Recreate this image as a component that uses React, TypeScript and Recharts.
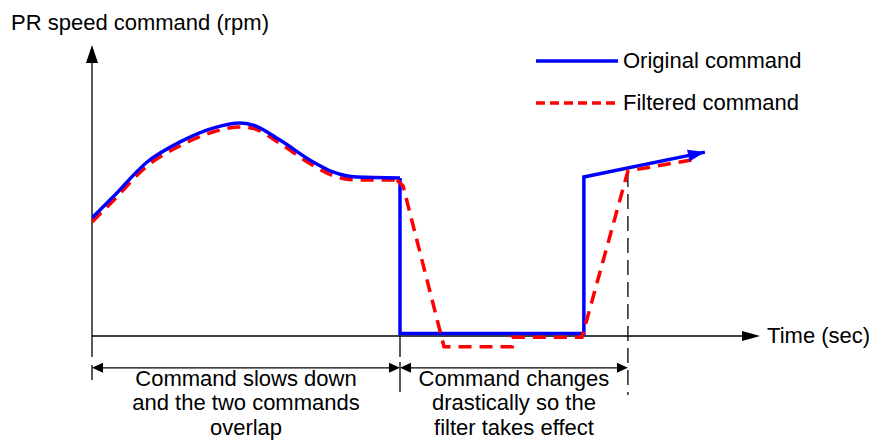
import { LineChart, Line, XAxis, YAxis, ReferenceLine } from "recharts";

const FONT = "'Liberation Sans', Arial, sans-serif";
const BLUE = "#0000ff";
const RED = "#ff0000";

// time (sec) and speed (rpm) of the original command
const originalCurveTime = [0, 0.68, 1.79, 2.86, 3.93, 4.81, 5.23, 6.1, 7.18, 7.82, 8.6, 10];
const originalCurveRpm = [393, 463, 580, 647, 693, 710, 703, 653, 580, 547, 530, 527];
const originalStepTime = [10, 10, 15.97, 15.97, 19.9];
const originalStepRpm = [527, 8, 8, 530, 613];

// the filtered command
const filteredCurveTime = [0, 0.68, 1.79, 2.86, 3.93, 4.81, 5.23, 6.1, 7.18, 7.82, 8.6, 9.9];
const filteredCurveRpm = [380, 450, 567, 634, 680, 697, 692, 642, 568, 535, 520, 520];
const filteredStepTime = [9.9, 10.1, 11.43, 13.64, 13.64, 15.91, 17.4, 19.64];
const filteredStepRpm = [520, 500, -36, -36, -4, -4, 550, 590];

const legendNames = ["Original command", "Filtered command"];
const yAxisTitle = "PR speed command (rpm)";
const xAxisTitle = "Time (sec)";
const yAxisEnd = 970;
const xAxisEnd = 21.69;

// phase boundaries (sec) and their captions
const phaseBounds = [0, 10, 17.4];
const phaseCaptions = [
  ["Command slows down", "and the two commands", "overlap"],
  ["Command changes", "drastically so the", "filter takes effect"],
];

const toPoints = (ts: number[], vs: number[]) => ts.map((t, i) => ({ t, v: vs[i] }));

const headPoints = (tx: number, ty: number, fx: number, fy: number, len: number, wid: number) => {
  const dx = tx - fx;
  const dy = ty - fy;
  const d = Math.hypot(dx, dy) || 1;
  const ux = dx / d;
  const uy = dy / d;
  const bx = tx - ux * len;
  const by = ty - uy * len;
  const px = (-uy * wid) / 2;
  const py = (ux * wid) / 2;
  return {
    bx,
    by,
    pts: `${tx},${ty} ${bx + px},${by + py} ${bx - px},${by - py}`,
  };
};

const Arrow = (p: any) => {
  const { x1, y1, x2, y2, start, end, len, wid, color, width, noLine } = p;
  const e = end ? headPoints(x2, y2, x1, y1, len, wid) : null;
  const s = start ? headPoints(x1, y1, x2, y2, len, wid) : null;
  return (
    <g>
      {!noLine && (
        <line
          x1={s ? s.bx : x1}
          y1={s ? s.by : y1}
          x2={e ? e.bx : x2}
          y2={e ? e.by : y2}
          stroke={color}
          strokeWidth={width}
        />
      )}
      {e && <polygon points={e.pts} fill={color} />}
      {s && <polygon points={s.pts} fill={color} />}
    </g>
  );
};

const yAxisShape = (p: any) => (
  <g>
    <Arrow {...p} end len={18} wid={12} color="#000" width={1.3} />
    <text x={p.x2 - 81} y={p.y2 - 15} fontSize={22} fontFamily={FONT} fill="#000">
      {yAxisTitle}
    </text>
  </g>
);

const xAxisShape = (p: any) => (
  <g>
    <Arrow {...p} end len={18} wid={10} color="#000" width={1.3} />
    <text x={p.x2 + 7} y={p.y2 + 7} fontSize={22} fontFamily={FONT} fill="#000">
      {xAxisTitle}
    </text>
  </g>
);

const blueHeadShape = (p: any) => (
  <Arrow {...p} end noLine len={17} wid={12} color={BLUE} />
);

const spanShape = (lines: string[]) => (p: any) => {
  const cx = (p.x1 + p.x2) / 2;
  return (
    <g>
      <Arrow {...p} start end len={11} wid={10} color="#000" width={1.3} />
      <text
        x={cx}
        y={p.y1 + 18}
        textAnchor="middle"
        fontSize={22}
        fontFamily={FONT}
        fill="#000"
      >
        {lines.map((l, i) => (
          <tspan key={i} x={cx} dy={i === 0 ? 0 : 24.5}>
            {l}
          </tspan>
        ))}
      </text>
    </g>
  );
};

const LegendBox = () => (
  <div
    style={{
      position: "absolute",
      top: 40,
      left: 536,
      fontFamily: FONT,
      fontSize: 22,
      color: "#000",
      whiteSpace: "nowrap",
    }}
  >
    {legendNames.map((name, i) => (
      <div key={name} style={{ display: "flex", alignItems: "center", height: 42 }}>
        <svg width={82} height={6} style={{ marginRight: 5 }}>
          <line
            x1={0}
            y1={3}
            x2={82}
            y2={3}
            stroke={i === 0 ? BLUE : RED}
            strokeWidth={3.5}
            strokeDasharray={i === 0 ? undefined : "9 5"}
          />
        </svg>
        <span style={{ lineHeight: "22px" }}>{name}</span>
      </div>
    ))}
  </div>
);

export default function App() {
  return (
    <div style={{ position: "absolute", top: 0, left: 0, width: 871, height: 441, background: "#fff" }}>
      <LineChart
        width={871}
        height={441}
        margin={{ top: 36, right: 9, left: 92, bottom: 0 }}
      >
        <XAxis type="number" dataKey="t" domain={[0, 25]} hide allowDataOverflow />
        <YAxis type="number" dataKey="v" domain={[-350, 1000]} hide allowDataOverflow />
        <ReferenceLine
          segment={[{ x: 0, y: 0 }, { x: 0, y: yAxisEnd }]}
          ifOverflow="visible"
          shape={yAxisShape}
        />
        <ReferenceLine
          segment={[{ x: 0, y: 0 }, { x: xAxisEnd, y: 0 }]}
          ifOverflow="visible"
          shape={xAxisShape}
        />
        {phaseBounds.slice(0, 2).map((t) => (
          <ReferenceLine
            key={`tick-${t}`}
            segment={[{ x: t, y: 0 }, { x: t, y: -70 }]}
            stroke="#000"
            strokeWidth={1.3}
            ifOverflow="visible"
          />
        ))}
        <ReferenceLine
          segment={[{ x: phaseBounds[0], y: -97 }, { x: phaseBounds[0], y: -147 }]}
          stroke="#000"
          strokeWidth={1.3}
          ifOverflow="visible"
        />
        <ReferenceLine
          segment={[{ x: phaseBounds[1], y: -87 }, { x: phaseBounds[1], y: -187 }]}
          stroke="#000"
          strokeWidth={1.3}
          ifOverflow="visible"
        />
        <ReferenceLine
          segment={[{ x: phaseBounds[2], y: 547 }, { x: phaseBounds[2], y: -197 }]}
          stroke="#000"
          strokeWidth={1.3}
          strokeDasharray="15 7"
          ifOverflow="visible"
        />
        {phaseCaptions.map((lines, i) => (
          <ReferenceLine
            key={`span-${i}`}
            segment={[
              { x: phaseBounds[i], y: -106 },
              { x: phaseBounds[i + 1], y: -106 },
            ]}
            ifOverflow="visible"
            shape={spanShape(lines)}
          />
        ))}
        <Line
          data={toPoints(filteredCurveTime, filteredCurveRpm)}
          dataKey="v"
          type="monotone"
          stroke={RED}
          strokeWidth={3.5}
          strokeDasharray="13 8"
          dot={false}
          activeDot={false}
          isAnimationActive={false}
        />
        <Line
          data={toPoints(originalCurveTime, originalCurveRpm)}
          dataKey="v"
          type="monotone"
          stroke={BLUE}
          strokeWidth={3.5}
          dot={false}
          activeDot={false}
          isAnimationActive={false}
        />
        <Line
          data={toPoints(originalStepTime, originalStepRpm)}
          dataKey="v"
          type="linear"
          stroke={BLUE}
          strokeWidth={3.5}
          dot={false}
          activeDot={false}
          isAnimationActive={false}
        />
        <Line
          data={toPoints(filteredStepTime, filteredStepRpm)}
          dataKey="v"
          type="linear"
          stroke={RED}
          strokeWidth={3.5}
          strokeDasharray="13 8"
          dot={false}
          activeDot={false}
          isAnimationActive={false}
        />
        <ReferenceLine
          segment={[
            { x: originalStepTime[3], y: originalStepRpm[3] },
            { x: originalStepTime[4], y: originalStepRpm[4] },
          ]}
          ifOverflow="visible"
          shape={blueHeadShape}
        />
      </LineChart>
      <LegendBox />
    </div>
  );
}
